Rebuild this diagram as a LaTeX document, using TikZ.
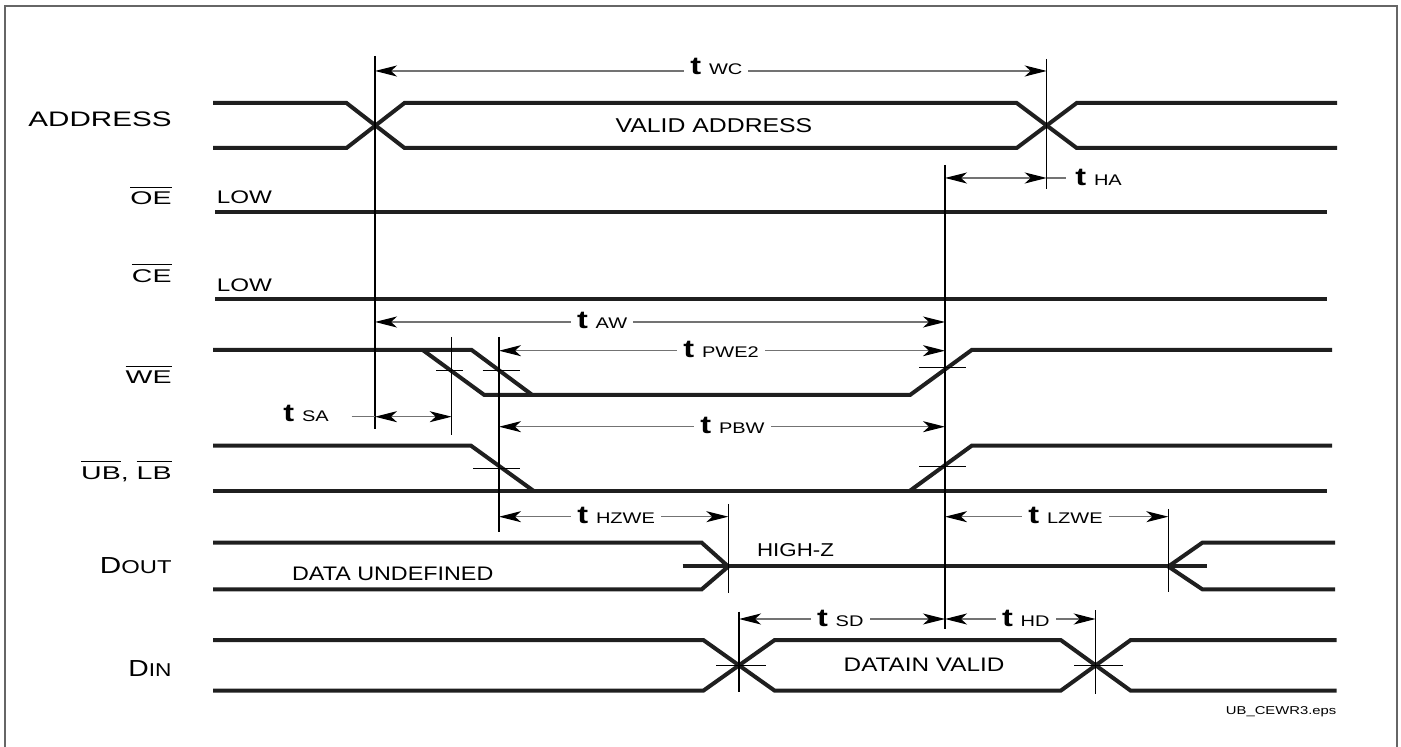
\documentclass[tikz,border=0pt]{standalone}
\usepackage{graphicx}
\usepackage{fontspec}
\setmainfont{Liberation Sans}
\usetikzlibrary{arrows.meta}
\newcommand{\wt}[3]{\scalebox{#1}[1]{\fontsize{#2}{#2}\selectfont #3}}
\newcommand{\ovl}[1]{\leavevmode\vbox{\hrule height 0.6pt\kern 2.2pt\hbox{#1}}}
\newcommand{\tlab}[1]{\scalebox{1.3}[1]{{\fontsize{12.5}{12.5}\selectfont\bfseries t}\hspace{3pt}{\fontsize{7.7}{7.7}\selectfont #1}}}
\begin{document}
\begin{tikzpicture}[x=0.5pt,y=-0.5pt,
  sig/.style={line width=2pt, black!88},
  refl/.style={line width=0.55pt, black},
  tipa/.tip={Stealth[length=11pt,width=5.5pt,inset=3pt,black]},
  dim/.style={line width=0.6pt, black!55, tipa-tipa},
  lead/.style={line width=0.6pt, black!55},
  tk/.style={line width=0.5pt, black},
  tl/.style={fill=white, inner xsep=3pt, inner ysep=1pt, anchor=base west},
  txt/.style={inner sep=0pt}]
\useasboundingbox (0,0) rectangle (1401,747);
\draw[line width=1pt, black!60] (5,760) -- (5,6) -- (1397,6) -- (1397,760);

% ---------- signal names ----------
\node[txt, anchor=base east] (nAddr) at (172,126.7) {\wt{1.41}{10.5}{ADDRESS}};
\node[txt, anchor=base east] (nOE) at (172,205) {\wt{1.55}{9.2}{\ovl{OE}}};
\node[txt, anchor=base east] (nCE) at (172,282.7) {\wt{1.55}{9.2}{\ovl{CE}}};
\node[txt, anchor=base east] (nWE) at (172,384) {\wt{1.55}{9.2}{\ovl{WE}}};
\node[txt, anchor=base east] (nUB) at (172,479.5) {\wt{1.55}{9.2}{\ovl{UB}, \ovl{LB}}};
\node[txt, anchor=base east] (nDout) at (172,573.3) {\wt{1.28}{11.6}{D{\fontsize{9.3}{9.3}\selectfont OUT}}};
\node[txt, anchor=base east] (nDin) at (172,676) {\wt{1.22}{11.6}{D{\fontsize{9.3}{9.3}\selectfont IN}}};

% ---------- texts in the waveforms ----------
\node[txt, anchor=base] (tVA) at (714,132.7) {\wt{1.24}{10}{VALID ADDRESS}};
\node[txt, anchor=base west] (tLow1) at (216.5,203.3) {\wt{1.33}{9.1}{LOW}};
\node[txt, anchor=base west] (tLow2) at (216.5,291.7) {\wt{1.33}{9.1}{LOW}};
\node[txt, anchor=base west] (tDU) at (291.7,580.7) {\wt{1.19}{9.8}{DATA UNDEFINED}};
\node[txt, anchor=base west] (tHZ) at (756.7,556.7) {\wt{1.2}{9.3}{HIGH-Z}};
\node[txt, anchor=base west] (tDV) at (843.3,671.7) {\wt{1.24}{9.8}{DATAIN VALID}};
\node[txt, anchor=base east] (tFile) at (1336.7,714) {\wt{1.3}{5.7}{UB\_CEWR3.eps}};

% ---------- waveforms ----------
% ADDRESS
\draw[sig] (213,103) -- (346.5,103) -- (404.5,148) -- (1016.7,148) -- (1076.7,103) -- (1337,103);
\draw[sig] (213,148) -- (346.5,148) -- (404.5,103) -- (1016.7,103) -- (1076.7,148) -- (1337,148);
% OE, CE
\draw[sig] (215,212.5) -- (1327,212.5);
\draw[sig] (215,299.3) -- (1327,299.3);
% WE
\draw[sig] (213,350) -- (471.7,350) -- (532.3,395) -- (910,395) -- (971.7,350) -- (1332,350);
\draw[sig] (422.7,350) -- (484.3,395) -- (532.3,395);
\draw[tk] (436,371) -- (463,371);
\draw[tk] (482.7,371) -- (520,371);
\draw[tk] (919,367.3) -- (965.7,367.3);
% UB, LB
\draw[sig] (213,445.7) -- (471,445.7) -- (533.3,490.7);
\draw[sig] (213,490.7) -- (1327,490.7);
\draw[sig] (910,490.7) -- (971.7,445.7) -- (1332,445.7);
\draw[tk] (473,468.3) -- (520,468.3);
\draw[tk] (919,466.7) -- (965.7,466.7);
% DOUT
\draw[sig] (213,542.7) -- (701.7,542.7) -- (728.3,566.5) -- (701.7,589.3) -- (213,589.3);
\draw[sig] (682.7,566.5) -- (1206.7,566.5);
\draw[sig] (1335,542.7) -- (1202.3,542.7) -- (1168.3,566.5) -- (1202.3,589.3) -- (1335,589.3);
% DIN
\draw[sig] (213,640) -- (703.3,640) -- (774.7,690.7) -- (1060.7,690.7) -- (1130.7,640) -- (1336.7,640);
\draw[sig] (213,690.7) -- (703.3,690.7) -- (774.7,640) -- (1060.7,640) -- (1130.7,690.7) -- (1336.7,690.7);
\draw[tk] (716,665.3) -- (765.7,665.3);
\draw[tk] (1074,665.3) -- (1123.3,665.3);

% ---------- reference lines ----------
\coordinate (v1a) at (375,56);     \coordinate (v1b) at (375,429);
\coordinate (v2a) at (1046.7,59);  \coordinate (v2b) at (1046.7,189);
\coordinate (v3a) at (945,165);    \coordinate (v3b) at (945,629);
\coordinate (v4a) at (451.7,337);  \coordinate (v4b) at (451.7,435);
\coordinate (v5a) at (499,337);    \coordinate (v5b) at (499,532);
\coordinate (v6a) at (728.3,504);  \coordinate (v6b) at (728.3,593);
\coordinate (v7a) at (1168.3,509); \coordinate (v7b) at (1168.3,592);
\coordinate (v8a) at (739,611.7);  \coordinate (v8b) at (739,691.7);
\coordinate (v9a) at (1095.7,610); \coordinate (v9b) at (1095.7,694);
\foreach \v in {1,...,9} {\draw[refl] (v\v a) -- (v\v b);}

% ---------- dimension arrows ----------
\draw[dim] (375,71) -- (1046.7,71);
\node[tl] (lWC) at (684,75) {\tlab{WC}};

\draw[dim] (945,178) -- (1046.7,178);
\draw[lead] (1046.7,178) -- (1065.7,178);
\node[tl] (lHA) at (1069,186) {\tlab{HA}};

\draw[dim] (375,322) -- (945,322);
\node[tl] (lAW) at (570.7,328.3) {\tlab{AW}};

\draw[dim] (499,350.7) -- (945,350.7);
\node[tl] (lPWE) at (677,357.3) {\tlab{PWE2}};

\draw[dim] (375,416.7) -- (451.7,416.7);
\draw[lead] (351.7,416.7) -- (375,416.7);
\node[tl] (lSA) at (277,421.7) {\tlab{SA}};

\draw[dim] (499,426.7) -- (945,426.7);
\node[tl] (lPBW) at (694,433.3) {\tlab{PBW}};

\draw[dim] (499,516.7) -- (728.3,516.7);
\node[tl] (lHZ) at (571,523.3) {\tlab{HZWE}};

\draw[dim] (945,516.7) -- (1168.3,516.7);
\node[tl] (lLZ) at (1022,523.3) {\tlab{LZWE}};

\draw[dim] (739,619) -- (945,619);
\node[tl] (lSD) at (810.7,626.7) {\tlab{SD}};

\draw[dim] (945,619) -- (1095.7,619);
\node[tl] (lHD) at (995.7,626) {\tlab{HD}};
\end{tikzpicture}
\end{document}
